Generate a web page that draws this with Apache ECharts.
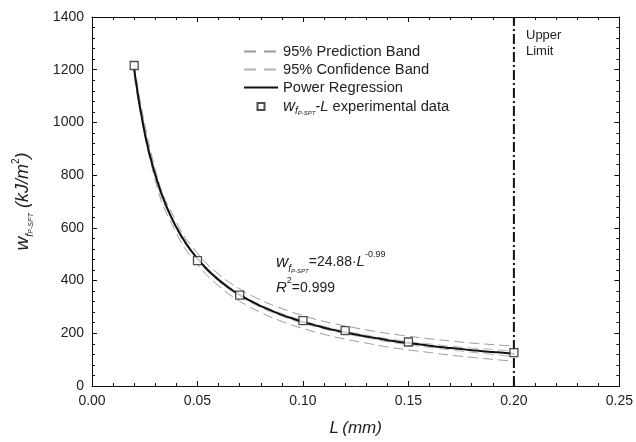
<!DOCTYPE html>
<html>
<head>
<meta charset="utf-8">
<script src="https://cdn.jsdelivr.net/npm/echarts@6/dist/echarts.min.js"></script>
<style>html,body{margin:0;padding:0;background:#fff}#c{width:636px;height:442px}</style>
</head>
<body>
<div id="c"></div>
<script>
// ---- data ----
const expL = [0.02, 0.05, 0.07, 0.10, 0.12, 0.15, 0.20];
const expW = [1216, 476, 345, 248, 210, 167, 127];

// regression curve
const fitL = [0.020,0.025,0.030,0.035,0.040,0.045,0.050,0.055,0.060,0.065,0.070,0.075,0.080,0.085,0.090,0.095,
              0.100,0.105,0.110,0.115,0.120,0.125,0.130,0.135,0.140,0.145,0.150,0.155,0.160,0.165,0.170,0.175,
              0.180,0.185,0.190,0.195,0.200];
const fitW = [1200, 959, 801, 687, 602, 536, 483, 439, 403, 372, 346, 323, 303, 286, 270, 256,
              243, 232, 221, 212, 203, 195, 188, 181, 174, 168, 163, 158, 153, 148, 144, 140,
              136, 132, 129, 126, 122];

// band curves, read every 0.01
const bandL = [0.02,0.03,0.04,0.05,0.06,0.07,0.08,0.09,0.10,0.11,0.12,0.13,0.14,0.15,0.16,0.17,0.18,0.19,0.20];
const predUpper = [1220, 821, 622, 504, 425, 369, 326, 294, 267, 245, 228, 213, 200, 189, 179, 171, 163, 157, 151];
const predLower = [1178, 780, 581, 461, 380, 322, 279, 245, 218, 196, 178, 163, 148, 137, 127, 117, 109, 101, 94];
const confUpper = [1208, 807, 607, 488, 408, 351, 308, 275, 248, 226, 208, 193, 180, 169, 160, 151, 144, 138, 132];
const confLower = [1192, 795, 597, 478, 398, 341, 298, 265, 238, 216, 198, 183, 168, 157, 146, 137, 128, 120, 112];

const upperLimitL = 0.20;
const xMin = 0, xMax = 0.25, xStep = 0.05;
const yMin = 0, yMax = 1400, yStep = 200;

const legendNames = ['95% Prediction Band', '95% Confidence Band', 'Power Regression', 'exp'];

// ---- chart ----
const FF = 'Liberation Sans, Arial, Helvetica, sans-serif';
const TXT = '#222';
const zip = (xs, ys) => xs.map((x, i) => [x, ys[i]]);

const chart = echarts.init(document.getElementById('c'), null, {renderer: 'canvas'});

const axisCommon = {
  type: 'value',
  axisLine: {show: true, onZero: false, lineStyle: {color: '#111', width: 1}},
  axisTick: {show: true, inside: true, length: 5, lineStyle: {color: '#111'}},
  minorTick: {show: true, splitNumber: 5, length: 3, lineStyle: {color: '#111'}},
  splitLine: {show: false},
  minorSplitLine: {show: false}
};

const subRich = {
  w: {fontFamily: FF, fontSize: 17, fontStyle: 'italic', color: TXT, lineHeight: 24, verticalAlign: 'middle'},
  f: {fontFamily: FF, fontSize: 10, fontStyle: 'italic', color: TXT, lineHeight: 13, verticalAlign: 'bottom'},
  s: {fontFamily: FF, fontSize: 6, fontStyle: 'italic', color: TXT, lineHeight: 5, verticalAlign: 'bottom'},
  i: {fontFamily: FF, fontSize: 15, fontStyle: 'italic', color: TXT, lineHeight: 24, verticalAlign: 'middle'},
  t: {fontFamily: FF, fontSize: 14, color: TXT, lineHeight: 24, verticalAlign: 'middle'},
  sup: {fontFamily: FF, fontSize: 9, color: TXT, lineHeight: 14, verticalAlign: 'top'}
};
function toFill(rich) {
  const out = {};
  for (const k in rich) {
    const r = Object.assign({}, rich[k]);
    r.fill = r.color; delete r.color;
    out[k] = r;
  }
  return out;
}

const bandStyle = (c) => ({color: c, width: 1, type: [10, 5]});
const lineLegend = {itemStyle: {opacity: 0}};
const bandLegend = {itemStyle: {opacity: 0}, lineStyle: {type: [12, 8]}};

const option = {
  animation: false,
  backgroundColor: '#fff',
  grid: {left: 92, right: 15, top: 17, bottom: 56, containLabel: false},
  legend: {
    data: [
      Object.assign({name: legendNames[0]}, bandLegend),
      Object.assign({name: legendNames[1]}, bandLegend),
      Object.assign({name: legendNames[2]}, lineLegend),
      {name: legendNames[3], icon: 'path://M0,0M34,8M13.5,0.5h7v7h-7z'}
    ],
    orient: 'vertical',
    left: 238, top: 39,
    itemWidth: 34, itemHeight: 8, itemGap: 3,
    symbolKeepAspect: true,
    selectedMode: false,
    textStyle: {fontFamily: FF, fontSize: 14.7, color: TXT,
      rich: Object.assign({}, subRich, {
        w: Object.assign({}, subRich.w, {fontSize: 16.5, lineHeight: 20}),
        i: Object.assign({}, subRich.i, {fontSize: 14.7, lineHeight: 20}),
        t: Object.assign({}, subRich.t, {fontSize: 14.7, lineHeight: 20}),
        f: Object.assign({}, subRich.f, {lineHeight: 12})
      })},
    formatter: function (name) {
      if (name === 'exp') return '{w|w}{f|f}{s|P-SPT}{i|-L}{t| experimental data}';
      return name;
    }
  },
  xAxis: [
    Object.assign({}, axisCommon, {
      position: 'bottom', min: xMin, max: xMax, interval: xStep,
      axisLabel: {fontFamily: FF, fontSize: 14, color: TXT, margin: 8,
        formatter: v => v.toFixed(2)},
      name: '{i|L} {i|(mm)}', nameLocation: 'middle', nameGap: 34,
      nameTextStyle: {rich: {i: {fontFamily: FF, fontSize: 17, fontStyle: 'italic', color: TXT}}}
    }),
    Object.assign({}, axisCommon, {
      position: 'top', min: xMin, max: xMax, interval: xStep,
      axisLabel: {show: false}
    })
  ],
  yAxis: [
    Object.assign({}, axisCommon, {
      position: 'left', min: yMin, max: yMax, interval: yStep,
      axisLabel: {fontFamily: FF, fontSize: 14, color: TXT, margin: 8, formatter: v => String(v)},
      name: '{w|w}{f|f}{s|P-SPT}{i| (kJ/m}{sup|2}{i|)}',
      nameLocation: 'middle', nameRotate: 90, nameGap: 57,
      nameTextStyle: {rich: Object.assign({}, subRich, {
        w: Object.assign({}, subRich.w, {fontSize: 19}),
        i: Object.assign({}, subRich.i, {fontSize: 18}),
        f: Object.assign({}, subRich.f, {fontSize: 11, lineHeight: 14}),
        s: Object.assign({}, subRich.s, {fontSize: 7, lineHeight: 4}),
        sup: Object.assign({}, subRich.sup, {fontSize: 10})
      })}
    }),
    Object.assign({}, axisCommon, {
      position: 'right', min: yMin, max: yMax, interval: yStep,
      axisLabel: {show: false}
    })
  ],
  series: [
    {name: '95% Prediction Band', type: 'line', data: zip(bandL, predUpper), smooth: true,
      symbol: 'none', lineStyle: bandStyle('#9a9a9a'), itemStyle: {color: '#9a9a9a'}, z: 2},
    {name: '95% Prediction Band', type: 'line', data: zip(bandL, predLower), smooth: true,
      symbol: 'none', lineStyle: bandStyle('#9a9a9a'), itemStyle: {color: '#9a9a9a'}, z: 2},
    {name: '95% Confidence Band', type: 'line', data: zip(bandL, confUpper), smooth: true,
      symbol: 'none', lineStyle: bandStyle('#b4b4b4'), itemStyle: {color: '#b4b4b4'}, z: 2},
    {name: '95% Confidence Band', type: 'line', data: zip(bandL, confLower), smooth: true,
      symbol: 'none', lineStyle: bandStyle('#b4b4b4'), itemStyle: {color: '#b4b4b4'}, z: 2},
    {name: 'Power Regression', type: 'line', data: zip(fitL, fitW), smooth: true,
      symbol: 'none', lineStyle: {color: '#111', width: 2}, itemStyle: {color: '#111'}, z: 3},
    {name: 'exp', type: 'scatter', data: zip(expL, expW), symbol: 'rect', symbolSize: 8,
      itemStyle: {color: '#fff', borderColor: '#222', borderWidth: 1.3}, z: 5},
    {name: 'Upper Limit', type: 'line', data: [[upperLimitL, yMin], [upperLimitL, yMax]],
      symbol: 'none', lineStyle: {color: '#111', width: 2, type: [10, 3, 2, 3]}, z: 4}
  ],
  graphic: [
    {type: 'text', left: 276, top: 250, z: 10,
      style: {text: '{w|w}{f|f}{s|P-SPT}{t|=24.88·}{i|L}{sup|-0.99}', rich: toFill(subRich)}},
    {type: 'text', left: 276, top: 276, z: 10,
      style: {text: '{i|R}{sup|2}{t|=0.999}', rich: toFill(subRich)}},
    {type: 'text', left: 526, top: 27, z: 10,
      style: {text: 'Upper\nLimit', fontFamily: FF, fontSize: 13, lineHeight: 16.5, fill: TXT}}
  ]
};
chart.setOption(option);
</script>
</body>
</html>
